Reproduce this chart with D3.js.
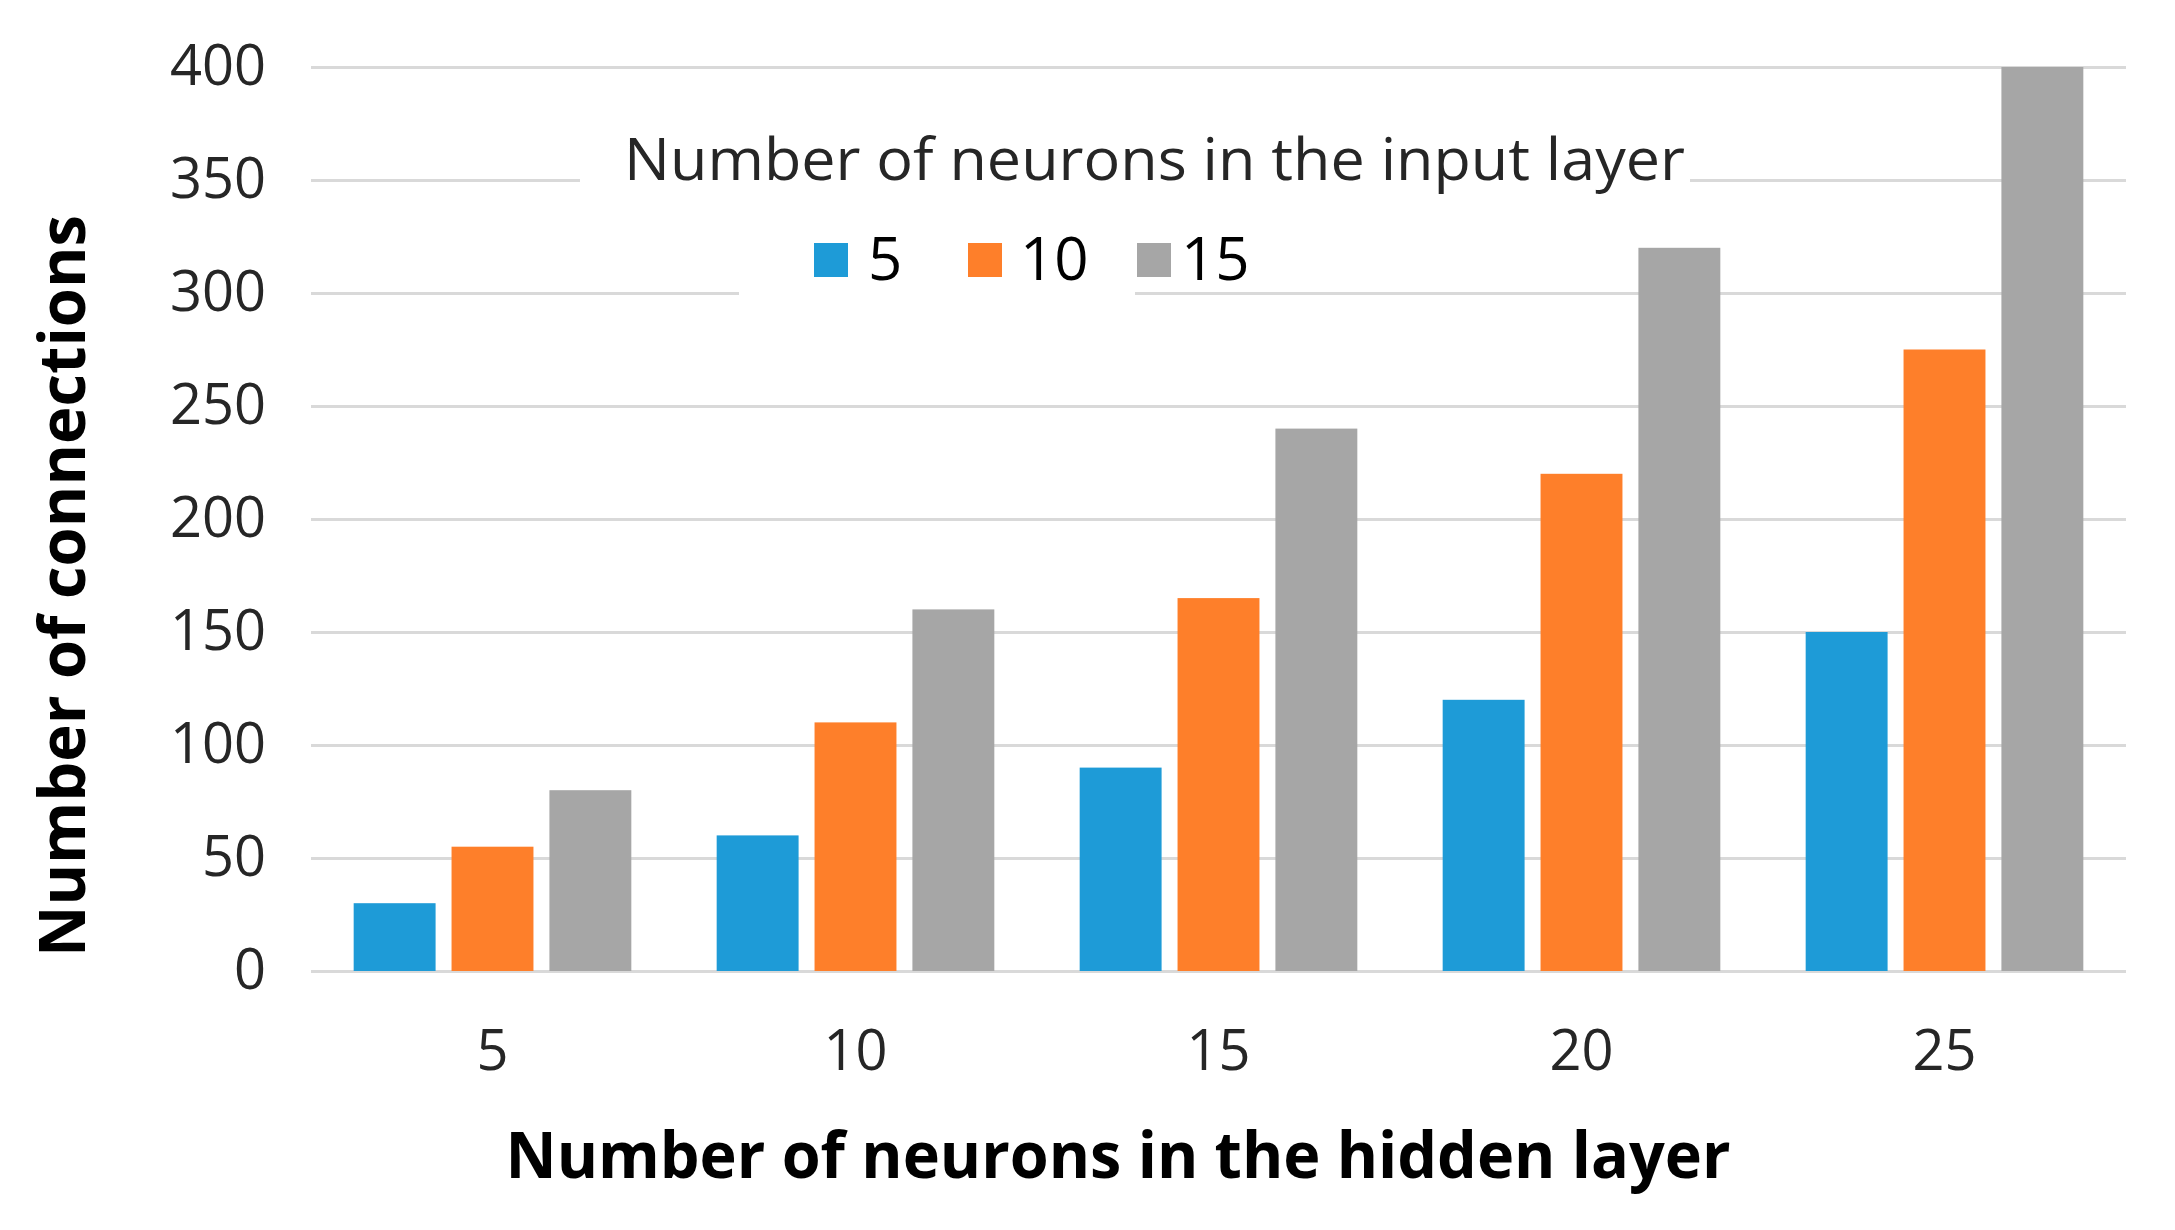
<!DOCTYPE html>
<html>
<head>
<meta charset="utf-8">
<script src="https://cdn.jsdelivr.net/npm/d3@7"></script>
<style>
  html, body { margin: 0; padding: 0; background: #fff; }
  text { font-family: "Open Sans", "Noto Sans", sans-serif; }
</style>
</head>
<body>
<svg id="chart" width="2175" height="1230"></svg>
<script>
const categories = ["5", "10", "15", "20", "25"];
const seriesNames = ["5", "10", "15"];
const series5 = [30, 60, 90, 120, 150];
const series10 = [55, 110, 165, 220, 275];
const series15 = [80, 160, 240, 320, 400];
const yTicks = [0, 50, 100, 150, 200, 250, 300, 350, 400];
const colors = ["#1e9bd7", "#fe7f2a", "#a6a6a6"];

const xTitle = "Number of neurons in the hidden layer";
const yTitle = "Number of connections";
const legendTitle = "Number of neurons in the input layer";

const seriesValues = [series5, series10, series15];

const svg = d3.select("#chart");
svg.append("rect").attr("width", 2175).attr("height", 1230).attr("fill", "#fff");

const plotLeft = 311, plotRight = 2126, plotTop = 67, plotBottom = 971;

const x0 = d3.scaleBand().domain(categories).range([plotLeft, plotRight]).paddingInner(0).paddingOuter(0);
const x1 = d3.scaleBand().domain(seriesNames).range([0, x0.bandwidth()]).paddingInner(0.163).paddingOuter(0.436);
const y = d3.scaleLinear().domain([0, 400]).range([plotBottom, plotTop]);

// gridlines
const yAxis = d3.axisLeft(y).tickValues(yTicks).tickSize(-(plotRight - plotLeft)).tickPadding(45);
const gy = svg.append("g").attr("transform", `translate(${plotLeft},0)`).call(yAxis);
gy.select(".domain").remove();
gy.selectAll(".tick line").attr("stroke", "#d9d9d9").attr("stroke-width", 3);
gy.selectAll(".tick text")
  .attr("font-size", 56)
  .attr("fill", "#262626")
  .attr("font-family", "'Open Sans', sans-serif");

// legend backgrounds (cover gridlines)
svg.append("rect").attr("x", 580).attr("y", 128).attr("width", 1110).attr("height", 70).attr("fill", "#fff");
svg.append("rect").attr("x", 739).attr("y", 228).attr("width", 396).attr("height", 72).attr("fill", "#fff");

// bars
const groups = svg.append("g").selectAll("g")
  .data(categories)
  .join("g")
  .attr("transform", d => `translate(${x0(d)},0)`);

groups.selectAll("rect")
  .data((d, i) => seriesNames.map((s, j) => ({ s, j, v: seriesValues[j][i] })))
  .join("rect")
  .attr("x", d => x1(d.s))
  .attr("width", x1.bandwidth())
  .attr("y", d => y(d.v))
  .attr("height", d => y(0) - y(d.v))
  .attr("fill", d => colors[d.j]);

// x axis labels
const xAxis = d3.axisBottom(x0).tickSize(0).tickPadding(0);
const gx = svg.append("g").attr("transform", `translate(0,${plotBottom})`).call(xAxis);
gx.select(".domain").remove();
gx.selectAll(".tick text")
  .attr("font-size", 56)
  .attr("fill", "#262626")
  .attr("font-family", "'Open Sans', sans-serif")
  .attr("dy", null)
  .attr("y", 99);

// axis titles
svg.append("text")
  .attr("x", 1118).attr("y", 1178)
  .attr("text-anchor", "middle")
  .attr("font-size", 64).attr("font-weight", "bold").attr("fill", "#000")
  .attr("textLength", 1225).attr("lengthAdjust", "spacingAndGlyphs")
  .text(xTitle);

svg.append("text")
  .attr("transform", "translate(85,586) rotate(-90)")
  .attr("text-anchor", "middle")
  .attr("font-size", 64).attr("font-weight", "bold").attr("fill", "#000")
  .attr("textLength", 742).attr("lengthAdjust", "spacingAndGlyphs")
  .text(yTitle);

// legend
svg.append("text")
  .attr("x", 624).attr("y", 180)
  .attr("font-size", 58).attr("fill", "#262626")
  .attr("textLength", 1061).attr("lengthAdjust", "spacingAndGlyphs")
  .text(legendTitle);

const legendX = [814, 968, 1137];
const legendTextX = [868, 1020, 1181];
const lg = svg.append("g");
seriesNames.forEach((s, i) => {
  lg.append("rect").attr("x", legendX[i]).attr("y", 243).attr("width", 34).attr("height", 34).attr("fill", colors[i]);
  lg.append("text").attr("x", legendTextX[i]).attr("y", 280)
    .attr("font-size", 60).attr("fill", "#000").text(s);
});
</script>
</body>
</html>
